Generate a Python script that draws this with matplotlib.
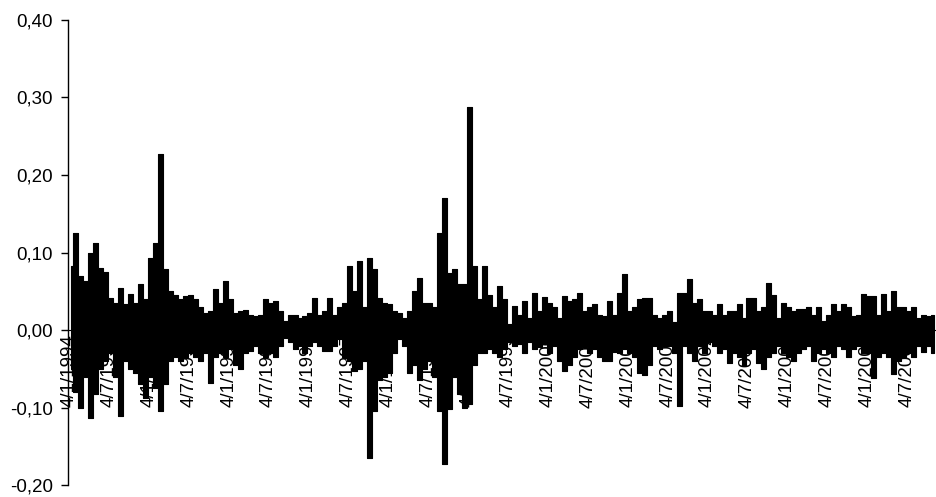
import matplotlib
matplotlib.use("Agg")
import matplotlib.pyplot as plt
from matplotlib.ticker import FuncFormatter
import numpy as np

# returns: per ~5px column, the local high then the local low
y1994 = [0.083, -0.05, 0.125, -0.08, 0.07, -0.10, 0.063, -0.06, 0.10, -0.113, 0.112, -0.083, 0.08, -0.05, 0.075, -0.04,
         0.041, -0.03, 0.035, -0.06, 0.054, -0.111, 0.033, -0.04, 0.046, -0.05, 0.035, -0.055, 0.059, -0.07, 0.04, -0.088]
y1995 = [0.093, -0.06, 0.112, -0.075, 0.227, -0.104, 0.079, -0.07, 0.05, -0.04, 0.045, -0.035, 0.04, -0.04, 0.044, -0.035,
         0.045, -0.03, 0.04, -0.035, 0.03, -0.04, 0.022, -0.03, 0.025, -0.068, 0.053, -0.035, 0.035, -0.03, 0.063, -0.035]
y1996 = [0.04, -0.025, 0.022, -0.045, 0.025, -0.05, 0.026, -0.03, 0.02, -0.027, 0.018, -0.02, 0.02, -0.03, 0.04, -0.035,
         0.035, -0.03, 0.038, -0.035, 0.025, -0.02, 0.012, -0.01, 0.02, -0.015, 0.02, -0.025, 0.015, -0.02, 0.018, -0.03]
y1997 = [0.022, -0.02, 0.041, -0.015, 0.02, -0.02, 0.025, -0.027, 0.041, -0.027, 0.02, -0.02, 0.03, -0.012, 0.035, -0.035,
         0.083, -0.04, 0.05, -0.053, 0.089, -0.05, 0.03, -0.04, 0.093, -0.165, 0.079, -0.104, 0.041, -0.065, 0.035, -0.06]
y1998 = [0.034, -0.055, 0.025, -0.03, 0.022, -0.012, 0.015, -0.02, 0.025, -0.055, 0.05, -0.045, 0.067, -0.065, 0.035, -0.05,
         0.035, -0.04, 0.03, -0.06, 0.125, -0.104, 0.17, -0.173, 0.074, -0.102, 0.079, -0.06, 0.06, -0.083, 0.06, -0.1]
y1999 = [0.288, -0.095, 0.083, -0.045, 0.04, -0.03, 0.083, -0.03, 0.045, -0.025, 0.03, -0.03, 0.057, -0.035, 0.04, -0.025,
         0.008, -0.015, 0.031, -0.02, 0.02, -0.018, 0.037, -0.03, 0.015, -0.015, 0.048, -0.025, 0.025, -0.022, 0.043, -0.018]
y2000 = [0.035, -0.03, 0.03, -0.02, 0.015, -0.04, 0.044, -0.053, 0.038, -0.045, 0.04, -0.035, 0.048, -0.025, 0.025, -0.022,
         0.03, -0.03, 0.033, -0.025, 0.02, -0.035, 0.018, -0.04, 0.037, -0.04, 0.02, -0.028, 0.048, -0.03, 0.072, -0.025]
y2001 = [0.025, -0.03, 0.03, -0.035, 0.04, -0.055, 0.041, -0.058, 0.041, -0.045, 0.02, -0.02, 0.015, -0.025, 0.02, -0.02,
         0.025, -0.02, 0.01, -0.03, 0.048, -0.098, 0.048, -0.02, 0.066, -0.03, 0.035, -0.04, 0.04, -0.02, 0.025, -0.03]
y2002 = [0.025, -0.015, 0.02, -0.02, 0.034, -0.03, 0.02, -0.025, 0.024, -0.043, 0.025, -0.03, 0.034, -0.035, 0.015, -0.045,
         0.041, -0.03, 0.041, -0.025, 0.025, -0.043, 0.03, -0.05, 0.061, -0.035, 0.045, -0.03, 0.015, -0.02, 0.035, -0.03]
y2003 = [0.03, -0.035, 0.025, -0.04, 0.027, -0.03, 0.027, -0.025, 0.03, -0.02, 0.02, -0.04, 0.03, -0.03, 0.012, -0.025,
         0.02, -0.03, 0.034, -0.035, 0.025, -0.02, 0.034, -0.025, 0.03, -0.035, 0.018, -0.025, 0.02, -0.02, 0.046, -0.03]
y2004 = [0.044, -0.03, 0.044, -0.062, 0.02, -0.035, 0.046, -0.03, 0.025, -0.035, 0.05, -0.057, 0.03, -0.04, 0.03, -0.035,
         0.025, -0.03, 0.03, -0.035, 0.015, -0.02, 0.02, -0.028, 0.018, -0.02, 0.02, -0.03]

tick_labels = []
for yr in range(1994, 2005):
    tick_labels += ["4/1/%d" % yr, "4/7/%d" % yr]
cols_per_label = 8

values = np.array(y1994 + y1995 + y1996 + y1997 + y1998 + y1999 + y2000 + y2001 + y2002 + y2003 + y2004)
highs = values[0::2]
lows = values[1::2]
xc = np.arange(len(highs))

plt.rcParams['font.family'] = ['Liberation Sans', 'DejaVu Sans']

fig = plt.figure(figsize=(9.37, 4.97), dpi=100)
ax = fig.add_axes([0.0726, 0.0241, 0.9264, 0.9357])

# daily series is so dense it renders as a solid band between the local highs and lows
ax.fill_between(xc, highs, lows, step='mid', facecolor='black', edgecolor='black',
                linewidth=0.8, zorder=3)

ax.set_ylim(-0.20, 0.40)
ax.set_yticks(np.arange(-0.20, 0.401, 0.10))
ax.yaxis.set_major_formatter(FuncFormatter(lambda v, p: ("%.2f" % v).replace('.', ',').replace('-0,00', '0,00')))
ax.set_xlim(-0.5, len(highs) - 0.5)
ax.set_xticks(np.arange(len(tick_labels)) * cols_per_label - 0.3)
ax.set_xticklabels(tick_labels)

for s in ['top', 'right']:
    ax.spines[s].set_visible(False)
ax.spines['bottom'].set_position(('data', 0))
ax.spines['left'].set_linewidth(1.0)
ax.tick_params(axis='y', direction='out', length=5, width=1, pad=6, labelsize=13.5)
ax.tick_params(axis='x', length=0, pad=3, labelsize=13.5, labelrotation=90)

fig.savefig('out.png', dpi=100)
